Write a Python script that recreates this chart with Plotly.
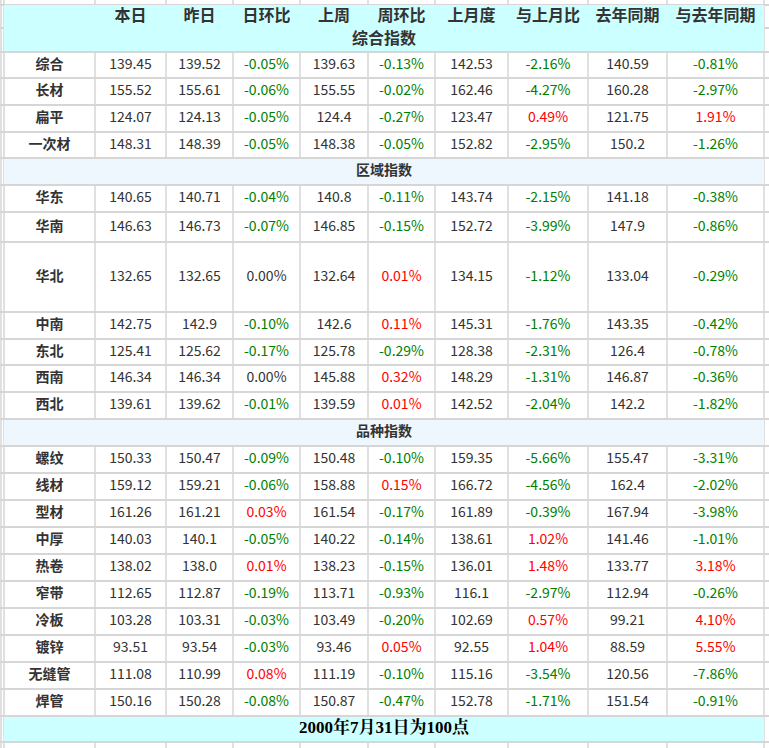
import plotly.graph_objects as go

# 表头
columns = ["本日", "昨日", "日环比", "上周", "周环比", "上月度", "与上月比", "去年同期", "与去年同期"]
title_general = "综合指数"
title_region = "区域指数"
title_variety = "品种指数"
footer_text = "2000年7月31日为100点"

labels_general = ["综合", "长材", "扁平", "一次材"]
labels_region = ["华东", "华南", "华北", "中南", "东北", "西南", "西北"]
labels_variety = ["螺纹", "线材", "型材", "中厚", "热卷", "窄带", "冷板", "镀锌", "无缝管", "焊管"]

# 数据 (综合 4 行 + 区域 7 行 + 品种 10 行)
today = ["139.45", "155.52", "124.07", "148.31",
         "140.65", "146.63", "132.65", "142.75", "125.41", "146.34", "139.61",
         "150.33", "159.12", "161.26", "140.03", "138.02", "112.65", "103.28", "93.51", "111.08", "150.16"]
yesterday = ["139.52", "155.61", "124.13", "148.39",
             "140.71", "146.73", "132.65", "142.9", "125.62", "146.34", "139.62",
             "150.47", "159.21", "161.21", "140.1", "138.0", "112.87", "103.31", "93.54", "110.99", "150.28"]
day_chg = ["-0.05%", "-0.06%", "-0.05%", "-0.05%",
           "-0.04%", "-0.07%", "0.00%", "-0.10%", "-0.17%", "0.00%", "-0.01%",
           "-0.09%", "-0.06%", "0.03%", "-0.05%", "0.01%", "-0.19%", "-0.03%", "-0.03%", "0.08%", "-0.08%"]
last_week = ["139.63", "155.55", "124.4", "148.38",
             "140.8", "146.85", "132.64", "142.6", "125.78", "145.88", "139.59",
             "150.48", "158.88", "161.54", "140.22", "138.23", "113.71", "103.49", "93.46", "111.19", "150.87"]
week_chg = ["-0.13%", "-0.02%", "-0.27%", "-0.05%",
            "-0.11%", "-0.15%", "0.01%", "0.11%", "-0.29%", "0.32%", "0.01%",
            "-0.10%", "0.15%", "-0.17%", "-0.14%", "-0.15%", "-0.93%", "-0.20%", "0.05%", "-0.10%", "-0.47%"]
last_month = ["142.53", "162.46", "123.47", "152.82",
              "143.74", "152.72", "134.15", "145.31", "128.38", "148.29", "142.52",
              "159.35", "166.72", "161.89", "138.61", "136.01", "116.1", "102.69", "92.55", "115.16", "152.78"]
month_chg = ["-2.16%", "-4.27%", "0.49%", "-2.95%",
             "-2.15%", "-3.99%", "-1.12%", "-1.76%", "-2.31%", "-1.31%", "-2.04%",
             "-5.66%", "-4.56%", "-0.39%", "1.02%", "1.48%", "-2.97%", "0.57%", "1.04%", "-3.54%", "-1.71%"]
last_year = ["140.59", "160.28", "121.75", "150.2",
             "141.18", "147.9", "133.04", "143.35", "126.4", "146.87", "142.2",
             "155.47", "162.4", "167.94", "141.46", "133.77", "112.94", "99.21", "88.59", "120.56", "151.54"]
year_chg = ["-0.81%", "-2.97%", "1.91%", "-1.26%",
            "-0.38%", "-0.86%", "-0.29%", "-0.42%", "-0.78%", "-0.36%", "-1.82%",
            "-3.31%", "-2.02%", "-3.98%", "-1.01%", "3.18%", "-0.26%", "4.10%", "5.55%", "-7.86%", "-0.91%"]

# ---- 版式 ----
W, H = 769, 748
col_edges = [4, 95, 166, 233, 300, 368, 435, 508, 588, 667, 764]
top = 5
header_h = 47
section_h = 27
footer_h = 26
row_h = 27
special_h = {"综合": 26, "一次材": 26, "华南": 30, "华北": 70, "东北": 26}

CYAN = "#ccffff"
LIGHT = "#edf7fd"
GRID = "#d6d6d6"
TXT = "#333333"
GREEN = "#008000"
RED = "#ff0000"
FONT = "Noto Sans CJK SC"

value_cols = [today, yesterday, day_chg, last_week, week_chg, last_month, month_chg, last_year, year_chg]
pct_cols = {2, 4, 6, 8}

# 行布局
layout_rows = []  # (kind, text, y0, y1)
y = top
layout_rows.append(("header", None, y, y + header_h))
y += header_h
idx = 0
for group, title in [(labels_general, None), (labels_region, title_region), (labels_variety, title_variety)]:
    if title:
        layout_rows.append(("section", title, y, y + section_h))
        y += section_h
    for lab in group:
        h = special_h.get(lab, row_h)
        layout_rows.append(("data", (lab, idx), y, y + h))
        y += h
        idx += 1
layout_rows.append(("footer", footer_text, y, y + footer_h))
y += footer_h

shapes = []
# 网格线
for xe in [1] + col_edges:
    shapes.append(dict(type="line", x0=xe, x1=xe, y0=0, y1=H, line=dict(color=GRID, width=1.5), layer="below"))
hlines = [top + 23] + [r[2] for r in layout_rows] + [layout_rows[-1][3]]
for yy in hlines:
    shapes.append(dict(type="line", x0=0, x1=W, y0=yy, y1=yy, line=dict(color=GRID, width=2), layer="below"))
# 底色
for kind, _, y0, y1 in layout_rows:
    if kind in ("header", "footer", "section"):
        fill = LIGHT if kind == "section" else CYAN
        t0 = y0 if kind == "header" else y0 + 1
        shapes.append(dict(type="rect", x0=col_edges[0], x1=col_edges[-1], y0=t0, y1=y1 - 1,
                           fillcolor=fill, line=dict(width=0), layer="below"))

centers = [(col_edges[i] + col_edges[i + 1]) / 2 for i in range(len(col_edges) - 1)]
mid_x = (col_edges[0] + col_edges[-1]) / 2


def pct_color(s):
    v = float(s.rstrip("%"))
    if v < 0:
        return GREEN
    if v > 0:
        return RED
    return TXT


fig = go.Figure()

# 表头
hdr = layout_rows[0]
fig.add_trace(go.Scatter(
    x=centers[1:], y=[hdr[2] + 12] * len(columns), mode="text",
    text=["<b>%s</b>" % c for c in columns],
    textfont=dict(family=FONT, size=16, color=TXT), hoverinfo="skip"))
fig.add_trace(go.Scatter(
    x=[mid_x], y=[hdr[2] + 35], mode="text", text=["<b>%s</b>" % title_general],
    textfont=dict(family=FONT, size=16, color=TXT), hoverinfo="skip"))

lab_x, lab_y, lab_t = [], [], []
val_x, val_y, val_t, val_c = [], [], [], []
sec_x, sec_y, sec_t = [], [], []
for kind, content, y0, y1 in layout_rows:
    yc = (y0 + y1) / 2
    if kind == "data":
        lab, i = content
        lab_x.append(centers[0])
        lab_y.append(yc)
        lab_t.append("<b>%s</b>" % lab)
        for j, col in enumerate(value_cols):
            val_x.append(centers[j + 1])
            val_y.append(yc)
            val_t.append(col[i])
            val_c.append(pct_color(col[i]) if j in pct_cols else TXT)
    elif kind == "section":
        sec_x.append(mid_x)
        sec_y.append(yc)
        sec_t.append("<b>%s</b>" % content)
    elif kind == "footer":
        fig.add_trace(go.Scatter(
            x=[mid_x], y=[yc], mode="text", text=["<b>%s</b>" % content],
            textfont=dict(family="Liberation Serif, Noto Serif CJK SC, Noto Sans CJK SC", size=17, color="#000000"),
            hoverinfo="skip"))

fig.add_trace(go.Scatter(x=lab_x, y=lab_y, mode="text", text=lab_t,
                         textfont=dict(family=FONT, size=14, color=TXT), hoverinfo="skip"))
fig.add_trace(go.Scatter(x=val_x, y=val_y, mode="text", text=val_t,
                         textfont=dict(family=FONT, size=14, color=val_c), hoverinfo="skip"))
fig.add_trace(go.Scatter(x=sec_x, y=sec_y, mode="text", text=sec_t,
                         textfont=dict(family=FONT, size=14, color=TXT), hoverinfo="skip"))

fig.update_layout(
    width=W, height=H,
    margin=dict(l=0, r=0, t=0, b=0),
    paper_bgcolor="white", plot_bgcolor="white",
    showlegend=False,
    shapes=shapes,
    xaxis=dict(range=[0, W], visible=False, fixedrange=True),
    yaxis=dict(range=[H, 0], visible=False, fixedrange=True),
)

fig.write_html("out.html", config=dict(displayModeBar=False),
               post_script="document.body.style.margin='0';document.body.style.overflow='hidden';")
